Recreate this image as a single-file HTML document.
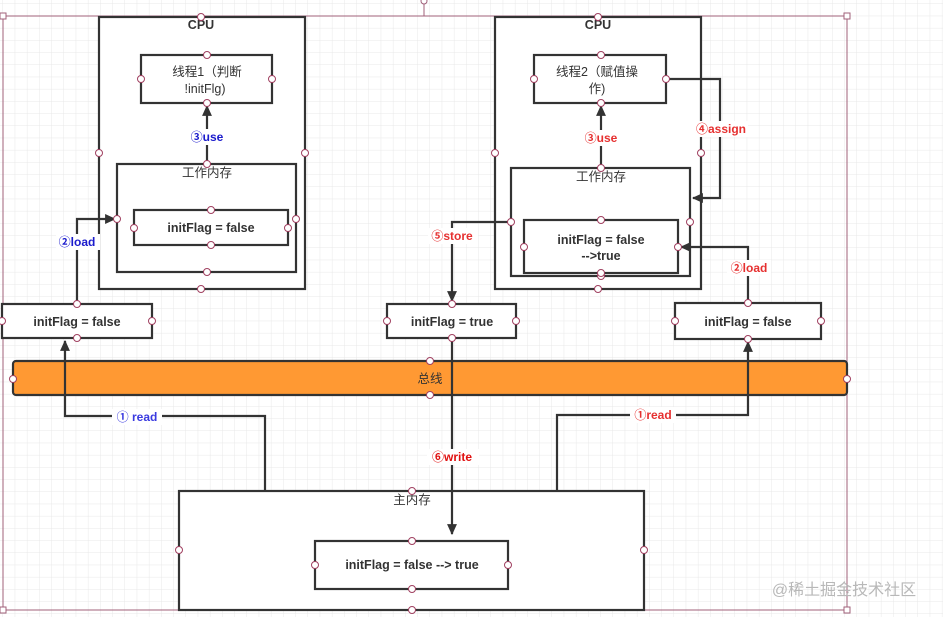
<!DOCTYPE html>
<html><head><meta charset="utf-8"><style>
html,body{margin:0;padding:0;background:#fff;}
svg{display:block;}
text{font-family:"Liberation Sans","Noto Sans CJK SC",sans-serif;}
</style></head><body>
<svg width="943" height="617" viewBox="0 0 943 617" xmlns="http://www.w3.org/2000/svg">
<defs>
<pattern id="g" width="12.2" height="12.2" patternUnits="userSpaceOnUse" x="3" y="4">
<path d="M12.2 0V12.2M0 12.2H12.2" fill="none" stroke="#e8e8e8" stroke-width="1"/>
</pattern>
<marker id="ah" viewBox="0 0 10 10" refX="9" refY="5" markerWidth="5" markerHeight="5" orient="auto-start-reverse" markerUnits="strokeWidth">
<path d="M0 0.5L10 5L0 9.5z" fill="#333"/>
</marker>
</defs>
<rect width="943" height="617" fill="url(#g)"/>
<g fill="none" stroke="#a0607a" stroke-width="1">
<rect x="3" y="16" width="844" height="594"/>
<line x1="424" y1="2" x2="424" y2="16"/>
</g>
<g fill="#fff" stroke="#a0607a" stroke-width="1">
<rect x="0" y="13" width="6" height="6"/><rect x="844" y="13" width="6" height="6"/>
<rect x="0" y="607" width="6" height="6"/><rect x="844" y="607" width="6" height="6"/>
<circle cx="424" cy="1" r="3"/>
</g>

<g fill="#fff" stroke="#333" stroke-width="2.2">
<rect x="99" y="17" width="206" height="272"/>
<rect x="141" y="55" width="131" height="48"/>
<rect x="117" y="164" width="179" height="108"/>
<rect x="134" y="210" width="154" height="35"/>
<rect x="495" y="17" width="206" height="272"/>
<rect x="534" y="55" width="132" height="48"/>
<rect x="511" y="168" width="179" height="108"/>
<rect x="524" y="220" width="154" height="53"/>
<rect x="2" y="304" width="150" height="34"/>
<rect x="387" y="304" width="129" height="34"/>
<rect x="675" y="303" width="146" height="36"/>
<rect x="13" y="361" width="834" height="34" rx="3" fill="#ff9933"/>
<rect x="179" y="491" width="465" height="119"/>
<rect x="315" y="541" width="193" height="48"/>
</g>

<g fill="none" stroke="#333" stroke-width="2.2">
<path d="M207 164V106" marker-end="url(#ah)"/>
<path d="M77 303V219H115" marker-end="url(#ah)"/>
<path d="M265 490V416H65V341" marker-end="url(#ah)"/>
<path d="M601 168V106" marker-end="url(#ah)"/>
<path d="M666 79H720V198H693" marker-end="url(#ah)"/>
<path d="M748 302V247H681" marker-end="url(#ah)"/>
<path d="M557 490V415H748V342" marker-end="url(#ah)"/>
<path d="M511 222H452V301" marker-end="url(#ah)"/>
<path d="M452 338V534" marker-end="url(#ah)"/>
</g>

<g font-size="12" font-weight="bold" text-anchor="middle">
<rect x="188" y="129" width="38" height="16" fill="#fff"/>
<text x="207" y="141" fill="#1a1acc">③use</text>
<rect x="56" y="234" width="44" height="16" fill="#fff"/>
<text x="77" y="246" fill="#1a1acc">②load</text>
<rect x="112" y="409" width="50" height="16" fill="#fff"/>
<text x="137" y="421" fill="#3a3ae0">① read</text>
<rect x="582" y="130" width="38" height="16" fill="#fff"/>
<text x="601" y="142" fill="#e63030">③use</text>
<rect x="694" y="121" width="54" height="16" fill="#fff"/>
<text x="721" y="133" fill="#e63030">④assign</text>
<rect x="727" y="260" width="44" height="16" fill="#fff"/>
<text x="749" y="272" fill="#e63030">②load</text>
<rect x="630" y="407" width="46" height="16" fill="#fff"/>
<text x="653" y="419" fill="#e63030">①read</text>
<rect x="428" y="228" width="50" height="16" fill="#fff"/>
<text x="452" y="240" fill="#e63030">⑤store</text>
<rect x="427" y="449" width="52" height="16" fill="#fff"/>
<text x="452" y="461" fill="#e01010">⑥write</text>
</g>

<g font-size="12.5" fill="#333" text-anchor="middle">
<text x="201" y="29" font-weight="bold">CPU</text>
<text x="207" y="76">线程1（判断</text>
<text x="205" y="93">!initFlg)</text>
<text x="207" y="177">工作内存</text>
<text x="211" y="232" font-weight="bold">initFlag = false</text>
<text x="598" y="29" font-weight="bold">CPU</text>
<text x="597" y="76">线程2（赋值操</text>
<text x="597" y="93">作)</text>
<text x="601" y="181">工作内存</text>
<text x="601" y="244" font-weight="bold">initFlag = false</text>
<text x="601" y="260" font-weight="bold">--&gt;true</text>
<text x="77" y="326" font-weight="bold">initFlag = false</text>
<text x="452" y="326" font-weight="bold">initFlag = true</text>
<text x="748" y="326" font-weight="bold">initFlag = false</text>
<text x="430" y="383">总线</text>
<text x="412" y="504">主内存</text>
<text x="412" y="569" font-weight="bold">initFlag = false --&gt; true</text>
</g>
<text x="844" y="595" font-size="16" fill="#b8b8b8" text-anchor="middle">@稀土掘金技术社区</text>

<g fill="#fff" stroke="#a04060" stroke-width="1">
<circle cx="201" cy="17" r="3.5"/><circle cx="99" cy="153" r="3.5"/><circle cx="305" cy="153" r="3.5"/><circle cx="201" cy="289" r="3.5"/>
<circle cx="207" cy="55" r="3.5"/><circle cx="141" cy="79" r="3.5"/><circle cx="272" cy="79" r="3.5"/><circle cx="207" cy="103" r="3.5"/>
<circle cx="207" cy="164" r="3.5"/><circle cx="117" cy="219" r="3.5"/><circle cx="296" cy="219" r="3.5"/><circle cx="207" cy="272" r="3.5"/>
<circle cx="211" cy="210" r="3.5"/><circle cx="134" cy="228" r="3.5"/><circle cx="288" cy="228" r="3.5"/><circle cx="211" cy="245" r="3.5"/>
<circle cx="598" cy="17" r="3.5"/><circle cx="495" cy="153" r="3.5"/><circle cx="701" cy="153" r="3.5"/><circle cx="598" cy="289" r="3.5"/>
<circle cx="601" cy="55" r="3.5"/><circle cx="534" cy="79" r="3.5"/><circle cx="666" cy="79" r="3.5"/><circle cx="601" cy="103" r="3.5"/>
<circle cx="601" cy="168" r="3.5"/><circle cx="511" cy="222" r="3.5"/><circle cx="690" cy="222" r="3.5"/><circle cx="601" cy="276" r="3.5"/>
<circle cx="601" cy="220" r="3.5"/><circle cx="524" cy="247" r="3.5"/><circle cx="678" cy="247" r="3.5"/><circle cx="601" cy="273" r="3.5"/>
<circle cx="77" cy="304" r="3.5"/><circle cx="2" cy="321" r="3.5"/><circle cx="152" cy="321" r="3.5"/><circle cx="77" cy="338" r="3.5"/>
<circle cx="452" cy="304" r="3.5"/><circle cx="387" cy="321" r="3.5"/><circle cx="516" cy="321" r="3.5"/><circle cx="452" cy="338" r="3.5"/>
<circle cx="748" cy="303" r="3.5"/><circle cx="675" cy="321" r="3.5"/><circle cx="821" cy="321" r="3.5"/><circle cx="748" cy="339" r="3.5"/>
<circle cx="430" cy="361" r="3.5"/><circle cx="13" cy="379" r="3.5"/><circle cx="847" cy="379" r="3.5"/><circle cx="430" cy="395" r="3.5"/>
<circle cx="412" cy="491" r="3.5"/><circle cx="179" cy="550" r="3.5"/><circle cx="644" cy="550" r="3.5"/><circle cx="412" cy="610" r="3.5"/>
<circle cx="412" cy="541" r="3.5"/><circle cx="315" cy="565" r="3.5"/><circle cx="508" cy="565" r="3.5"/><circle cx="412" cy="589" r="3.5"/>
</g>
</svg>
</body></html>
